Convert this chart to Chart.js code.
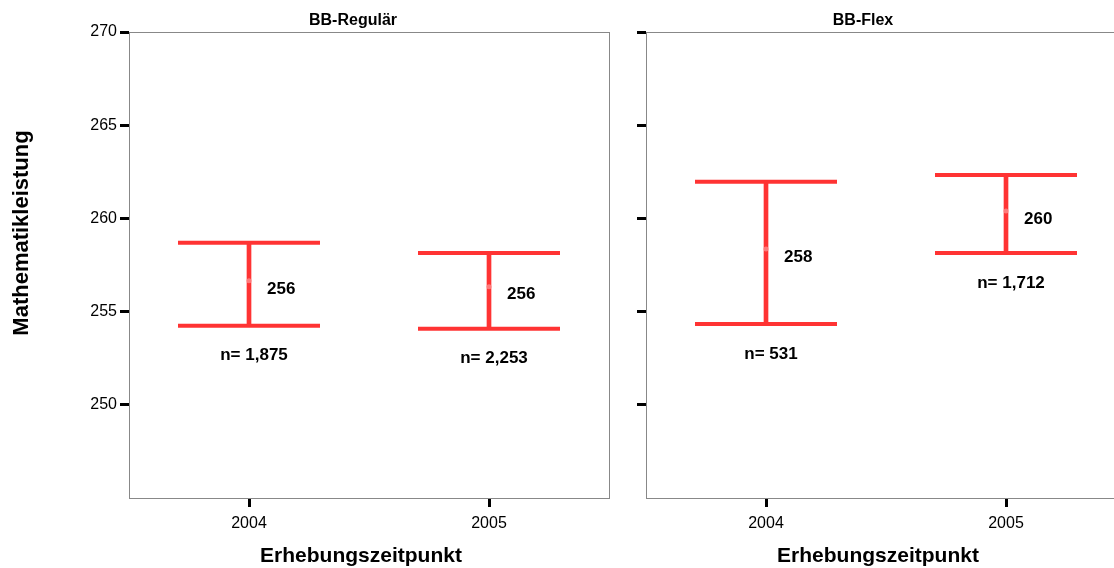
<!DOCTYPE html>
<html lang="de">
<head>
  <meta charset="UTF-8" />
  <title>Mathematikleistung</title>
  <style>
    html, body { margin: 0; padding: 0; background: #fff; overflow: hidden; width: 1114px; height: 568px; }
    canvas { position: absolute; top: 0; }
    #left { left: 0; }
    #right { left: 614px; }
  </style>
</head>
<body>
  <canvas id="left" width="614" height="568"></canvas>
  <canvas id="right" width="520" height="568"></canvas>

  <script src="https://cdn.jsdelivr.net/npm/chart.js"></script>
  <script>
    const years = ['2004', '2005'];
    const yTicks = [250, 255, 260, 265, 270];

    // BB-Regulär
    const regTitle = 'BB-Regulär';
    const regMean = [256.65, 256.33];
    const regLow = [254.24, 254.08];
    const regHigh = [258.69, 258.15];
    const regLabel = ['256', '256'];
    const regN = ['n= 1,875', 'n= 2,253'];

    // BB-Flex
    const flexTitle = 'BB-Flex';
    const flexMean = [258.36, 260.4];
    const flexLow = [254.34, 258.15];
    const flexHigh = [261.96, 262.33];
    const flexLabel = ['258', '260'];
    const flexN = ['n= 531', 'n= 1,712'];

    const RED = 'rgb(255,51,51)';
    const FONT = '"Liberation Sans", Arial, sans-serif';

    // Rahmen, Titel, Beschriftungen
    const panelPlugin = {
      id: 'panel',
      afterDraw(chart, args, opts) {
        const ctx = chart.ctx;
        const a = chart.chartArea;
        const x = chart.scales.x, y = chart.scales.y;
        ctx.save();
        ctx.strokeStyle = '#888';
        ctx.lineWidth = 1;
        ctx.strokeRect(a.left + 0.5, a.top + 0.5, a.right - a.left, a.bottom - a.top);

        ctx.fillStyle = '#000';
        ctx.font = 'bold 16px ' + FONT;
        ctx.textAlign = 'center';
        ctx.textBaseline = 'middle';
        ctx.fillText(opts.title, a.left + opts.titleDx, 21);

        opts.labels.forEach((t, i) => {
          const px = x.getPixelForValue(i);
          ctx.font = 'bold 17px ' + FONT;
          ctx.textAlign = 'left';
          ctx.fillText(t, px + 18, y.getPixelForValue(opts.mean[i]) + 8);
          ctx.textAlign = 'center';
          ctx.fillText(opts.n[i], px + 5, y.getPixelForValue(opts.low[i]) + 30);
        });

        ctx.font = 'bold 21px ' + FONT;
        ctx.textAlign = 'center';
        ctx.fillText('Erhebungszeitpunkt', a.left + 232, 556);

        if (opts.yTitle) {
          ctx.translate(22, 233);
          ctx.rotate(-Math.PI / 2);
          ctx.font = 'bold 22px ' + FONT;
          ctx.fillText(opts.yTitle, 0, 0);
        }
        ctx.restore();
      }
    };

    function makePanel(id, title, titleDx, mean, low, high, labels, nLabels, yAxisWidth, padRight, showYLabels, yTitle) {
      const ctx = document.getElementById(id).getContext('2d');
      return new Chart(ctx, {
        data: {
          labels: years,
          datasets: [
            {
              type: 'bar',
              data: low.map((l, i) => [l, high[i]]),
              backgroundColor: RED,
              barThickness: 4,
              borderWidth: 0,
              order: 2
            },
            {
              type: 'line',
              data: high,
              showLine: false,
              pointStyle: 'line',
              pointRadius: 71,
              pointBorderWidth: 4,
              borderColor: RED,
              order: 1
            },
            {
              type: 'line',
              data: low,
              showLine: false,
              pointStyle: 'line',
              pointRadius: 71,
              pointBorderWidth: 4,
              borderColor: RED,
              order: 1
            },
            {
              type: 'line',
              data: mean,
              showLine: false,
              pointStyle: 'circle',
              pointRadius: 2.5,
              pointBorderWidth: 0,
              pointBackgroundColor: 'rgba(255,130,130,0.9)',
              order: 0
            }
          ]
        },
        options: {
          responsive: false,
          animation: false,
          layout: { autoPadding: false, padding: { top: 32, right: padRight, left: 0, bottom: 0 } },
          plugins: {
            legend: { display: false },
            tooltip: { enabled: false },
            panel: { title, titleDx, mean, low, labels, n: nLabels, yTitle }
          },
          scales: {
            x: {
              type: 'category',
              offset: true,
              grid: { display: true, drawOnChartArea: false, drawTicks: true, tickLength: 9, tickWidth: 3, tickColor: '#000', offset: false },
              border: { color: '#888' },
              ticks: { color: '#000', font: { family: FONT, size: 16 }, padding: 7, maxRotation: 0 },
              afterFit(s) { s.height = 70; }
            },
            y: {
              min: 245,
              max: 270,
              grid: { drawOnChartArea: false, drawTicks: true, tickLength: 9, tickWidth: 3, tickColor: '#000' },
              border: { color: '#888' },
              ticks: { display: showYLabels, stepSize: 5, color: '#000', font: { family: FONT, size: 16 }, padding: 3 },
              afterBuildTicks(s) { s.ticks = yTicks.map(v => ({ value: v })); },
              afterFit(s) { s.width = yAxisWidth; }
            }
          }
        },
        plugins: [panelPlugin]
      });
    }

    makePanel('left', regTitle, 224, regMean, regLow, regHigh, regLabel, regN, 129, 5, true, 'Mathematikleistung');
    makePanel('right', flexTitle, 217, flexMean, flexLow, flexHigh, flexLabel, flexN, 32, 8, false, null);
  </script>
</body>
</html>
